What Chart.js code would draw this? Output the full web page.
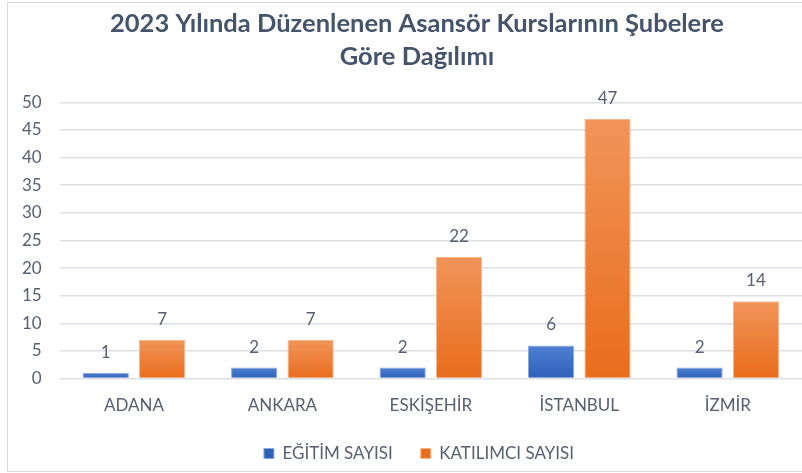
<!DOCTYPE html>
<html>
<head>
<meta charset="utf-8">
<script src="https://cdn.jsdelivr.net/npm/chart.js@4/dist/chart.umd.min.js"></script>
<style>
	html, body { margin: 0; padding: 0; background: #fff; }
	#wrap { position: relative; width: 802px; height: 473px; overflow: hidden; }
	#frame { position: absolute; left: 7px; top: 2px; width: 800px; height: 468px; border: 1px solid #d9d9d9; pointer-events: none; }
</style>
</head>
<body>
<div id="wrap">
	<canvas id="chart" width="802" height="473"></canvas>
	<div id="frame"></div>
</div>
<script>
	const branches = ['ADANA', 'ANKARA', 'ESKİŞEHİR', 'İSTANBUL', 'İZMİR'];
	const courses = [1, 2, 2, 6, 2];
	const participants = [7, 7, 22, 47, 14];
	const yTicks = [0, 5, 10, 15, 20, 25, 30, 35, 40, 45, 50];

	const textColor = '#586070';
	const fontName = 'Lato, "Open Sans", sans-serif';

	// each bar gets its own top-to-bottom gradient
	function barGradient(top, bottom, flat) {
		return (c) => {
			const chart = c.chart;
			const y = chart.scales.y;
			if (!chart.chartArea || !y || c.raw === undefined) return flat;
			const y0 = y.getPixelForValue(c.raw), y1 = y.getPixelForValue(0);
			if (!isFinite(y0) || !isFinite(y1) || y0 === y1) return flat;
			const g = chart.ctx.createLinearGradient(0, y0, 0, y1);
			g.addColorStop(0, top);
			g.addColorStop(1, bottom);
			return g;
		};
	}

	const valueLabels = {
		id: 'valueLabels',
		afterDatasetsDraw(chart) {
			const ctx = chart.ctx;
			ctx.save();
			ctx.font = '17px ' + fontName;
			ctx.fillStyle = textColor;
			ctx.textAlign = 'center';
			ctx.textBaseline = 'bottom';
			chart.data.datasets.forEach((ds, i) => {
				chart.getDatasetMeta(i).data.forEach((bar, j) => {
					ctx.fillText(ds.data[j], bar.x, bar.y - 12);
				});
			});
			ctx.restore();
		}
	};

	// title and legend sit a little right of the canvas centre, as in the original
	const nudge = {
		id: 'nudge',
		afterLayout(chart) {
			chart.titleBlock.left += 14; chart.titleBlock.right += 14;
			chart.legend.left += 16; chart.legend.right += 16;
		}
	};

	new Chart(document.getElementById('chart'), {
		type: 'bar',
		data: {
			labels: branches,
			datasets: [
				{
					label: 'EĞİTİM SAYISI',
					data: courses,
					backgroundColor: barGradient('#4d7fd3', '#2f60b8', '#4472c4'),
					borderColor: '#8aa9e0',
					borderWidth: 1,
					categoryPercentage: 0.76,
					barPercentage: 0.82,
				},
				{
					label: 'KATILIMCI SAYISI',
					data: participants,
					backgroundColor: barGradient('#f19459', '#e96d1c', '#ed7d31'),
					borderColor: '#f5b68a',
					borderWidth: 1,
					categoryPercentage: 0.76,
					barPercentage: 0.82,
				},
			]
		},
		options: {
			responsive: false,
			animation: false,
			layout: { padding: { left: 4, right: 0, top: 0, bottom: 1 } },
			plugins: {
				title: {
					display: true,
					text: ['2023 Yılında Düzenlenen Asansör Kurslarının Şubelere', 'Göre Dağılımı'],
					color: '#44546a',
					font: { family: fontName, size: 25.5, weight: 'bold', lineHeight: 1.3 },
					padding: { top: 7, bottom: 29 }
				},
				legend: {
					position: 'bottom',
					labels: {
						color: textColor,
						font: { family: fontName, size: 17 },
						boxWidth: 10,
						boxHeight: 10,
						padding: 28
					}
				},
				tooltip: { enabled: false }
			},
			scales: {
				x: {
					grid: { display: false, drawTicks: false },
					border: { display: false },
					ticks: { color: textColor, font: { family: fontName, size: 17 }, padding: 17 },
					afterFit: (scale) => { scale.height -= 16; }
				},
				y: {
					min: 0,
					max: 50,
					afterBuildTicks: (axis) => { axis.ticks = yTicks.map(v => ({ value: v })); },
					grid: { color: '#dcdfe4', lineWidth: 1.5, drawTicks: false },
					border: { display: false },
					ticks: { color: textColor, font: { family: fontName, size: 17 }, padding: 18 }
				}
			}
		},
		plugins: [valueLabels, nudge]
	});
</script>
</body>
</html>
